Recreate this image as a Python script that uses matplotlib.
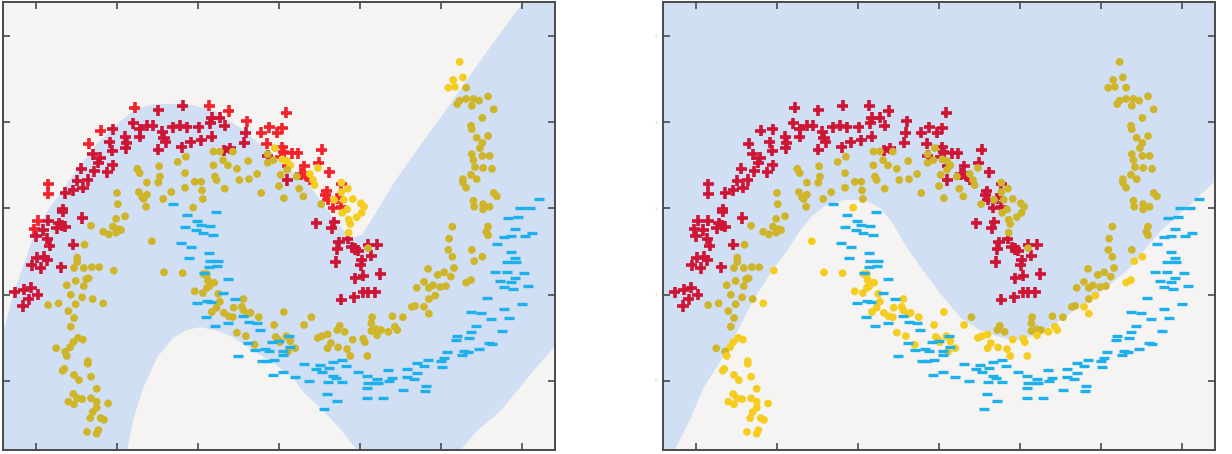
import numpy as np
import matplotlib
matplotlib.use("Agg")
import matplotlib.pyplot as plt

# ---------------- data (same samples shown in both panels) ----------------
red_x = [1.22, 1.51, 1.81, 2.14, 2.38, 3.09, 1.20, 2.60, 1.37, 1.44, 1.28, 1.69, 1.78, 1.86, 2.01,
         2.15, 2.17, 2.27, 2.33, 0.80, 0.95, 1.56, 2.78, 2.88, 2.98, 3.04, 2.59, 1.10, 1.28, 1.58,
         1.60, 1.91, 2.04, 2.17, 2.57, 1.80, 0.65, 0.91, 1.12, 1.11, 1.51, 2.40, 2.32, 2.85, 3.04,
         3.06, 3.16, 3.23, 0.70, 0.79, 0.77, 0.94, 0.95, 0.56, 0.72, 0.88, 0.15, 0.15, 0.36, 0.51,
         0.46, 0.58, 0.64, 0.33, 0.33, 0.57, 0.02, 0.15, 0.28, 0.26, -0.02, 0.32, 3.10, 2.86, 3.02,
         3.10, 0.00, 0.09, 0.14, 0.17, 0.46, 0.01, 0.10, 0.14, -0.05, 0.06, 0.31, -0.26, -0.15, -0.06,
         -0.09, 0.02, -0.16, 0.36, 3.53, 3.31, 3.49, 3.62, 3.27, 3.35, 3.38, 3.77, 3.59, 3.57, 3.60,
         3.72, 3.77, 3.67, 3.46, 3.68, 3.65, 3.85, 3.74, 3.72, 3.90, 3.94, 3.98, 4.10, 4.21, 3.70,
         4.02, 4.01, 4.14, 3.94, 4.04, 4.25, 3.77, 3.93, 4.04, 4.10, 4.19]
red_y = [3.17, 3.14, 3.19, 3.19, 3.13, 3.11, 2.99, 3.01, 2.96, 2.96, 2.92, 2.94, 2.96, 2.94, 2.94,
         2.99, 3.05, 3.05, 2.96, 2.90, 2.92, 2.89, 2.88, 2.94, 2.88, 2.93, 2.88, 2.83, 2.83, 2.82,
         2.77, 2.77, 2.79, 2.83, 2.76, 2.71, 2.75, 2.77, 2.76, 2.70, 2.68, 2.70, 2.67, 2.75, 2.71,
         2.66, 2.64, 2.64, 2.63, 2.59, 2.53, 2.67, 2.50, 2.46, 2.43, 2.42, 2.28, 2.17, 2.18, 2.32,
         2.21, 2.24, 2.33, 1.99, 1.96, 1.89, 1.86, 1.86, 1.83, 1.77, 1.76, 1.80, 2.33, 2.61, 2.60,
         2.49, 1.68, 1.75, 1.65, 1.57, 1.58, 1.43, 1.44, 1.40, 1.34, 1.31, 1.32, 1.03, 1.06, 1.08,
         0.95, 1.00, 0.87, 1.79, 2.68, 2.49, 2.53, 2.42, 2.40, 2.37, 2.34, 2.28, 2.20, 2.16, 2.10,
         2.12, 2.02, 2.01, 1.83, 1.84, 1.77, 1.65, 1.61, 1.53, 1.55, 1.53, 1.51, 1.58, 1.58, 1.38,
         1.40, 1.34, 1.45, 1.19, 1.22, 1.24, 0.94, 0.97, 1.03, 1.03, 1.03]

yel_x = [2.95, 2.86, 2.93, 3.04, 3.10, 3.14, 3.10, 2.86, 3.02, 2.19, 2.27, 2.43, 2.31, 2.37, 2.62,
         2.48, 2.19, 1.75, 1.85, 1.52, 1.25, 1.28, 1.53, 1.84, 2.21, 2.23, 2.51, 2.63, 2.73, 1.96,
         2.04, 1.37, 1.51, 1.84, 2.05, 2.33, 2.78, 3.00, 1.00, 1.27, 1.37, 1.31, 1.33, 1.67, 1.57,
         2.06, 1.01, 1.36, 3.06, 1.10, 0.99, 0.68, 0.95, 1.02, 1.94, 3.22, 3.25,
         0.83, 0.90, 0.99, 1.05, 1.43, 0.60, 0.51, 0.51, 0.47, 0.59, 0.69, 0.78, 0.96, 1.58, 1.81,
         0.65, 0.62, 0.49, 0.59, 0.38, 0.43, 0.57, 0.70, 0.83, 0.28, 0.15, 0.49, 0.40, 0.47, 0.43,
         0.52, 0.58, 0.46, 0.42, 0.25, 0.36, 0.38, 0.64, 0.64, 0.35, 0.33, 0.47, 0.53, 0.68, 0.75,
         0.46, 0.51, 0.57, 0.68, 0.40, 0.47, 0.75, 0.89, 0.75, 0.70, 0.67, 0.80, 0.84, 0.63, 0.77,
         0.75,
         1.96, 2.06, 2.11, 2.14, 2.11, 2.07, 2.12, 2.20, 2.25, 2.27, 2.23, 2.17, 2.32, 2.38, 2.43,
         2.44, 2.56, 2.54, 2.56, 2.62, 2.65, 2.75, 2.48, 2.59, 2.70, 2.94, 3.06, 2.96, 2.99, 3.01,
         3.09, 3.20, 3.11, 3.14,
         5.23, 5.15, 5.27, 5.09, 5.17, 5.31, 5.20, 5.23, 5.31, 5.40, 5.47, 5.38, 5.58, 5.65, 5.51,
         5.37, 5.38, 5.44, 5.51, 5.58, 5.48, 5.38, 5.51, 5.60, 5.40, 5.42, 5.52, 5.63, 5.37, 5.44,
         5.27, 5.27, 5.31, 5.65, 5.69, 5.40, 5.52, 5.41, 5.52, 5.60, 5.14, 5.58, 5.56, 5.58, 5.10,
         5.38, 5.09, 5.14, 5.41, 5.51, 5.16, 5.04, 4.96, 4.84, 5.12, 4.79, 4.90, 4.99, 5.06, 4.70,
         4.85, 5.31, 5.37,
         3.38, 3.42, 3.44, 3.30, 3.48, 3.52, 3.68, 3.77, 3.77, 3.80, 3.85, 3.91, 3.84, 3.78, 3.86,
         3.88, 3.96, 4.01, 4.05, 4.02, 3.86, 4.10,
         3.40, 3.31, 3.48, 3.53, 3.60, 3.72, 3.75, 3.81, 3.64, 3.60, 3.73, 3.84, 3.88, 3.91, 4.04,
         4.06, 4.09, 4.14, 4.15, 4.14, 4.20, 4.26, 4.21, 4.35, 4.43, 4.46, 4.40, 4.53, 4.64, 4.68,
         4.79, 4.85, 4.93, 4.85]
yel_y = [2.70, 2.63, 2.56, 2.57, 2.55, 2.50, 2.45, 2.53, 2.39, 2.66, 2.66, 2.66, 2.56, 2.50, 2.55,
         2.46, 2.50, 2.54, 2.60, 2.49, 2.46, 2.41, 2.37, 2.41, 2.37, 2.33, 2.33, 2.34, 2.40, 2.31,
         2.31, 2.30, 2.30, 2.24, 2.21, 2.23, 2.18, 2.26, 2.18, 2.19, 2.16, 2.13, 2.11, 2.19, 2.11,
         2.11, 2.05, 2.02, 2.12, 1.91, 1.88, 1.80, 1.79, 1.76, 2.01, 2.37, 2.23,
         1.73, 1.70, 1.72, 1.75, 1.62, 1.58, 1.43, 1.38, 1.31, 1.31, 1.32, 1.32, 1.28, 1.26, 1.25,
         1.19, 1.18, 1.16, 1.10, 1.11, 1.00, 0.97, 0.95, 0.90, 0.90, 0.88, 0.89, 0.81, 0.73, 0.63,
         0.50, 0.48, 0.45, 0.39, 0.38, 0.34, 0.29, 0.23, 0.20, 0.14, 0.12, 0.07, 0.01, 0.05, -0.09,
         -0.15, -0.20, -0.21, -0.20, -0.24, -0.27, -0.24, -0.26, -0.31, -0.36, -0.43, -0.43, -0.45, -0.59, -0.57,
         -0.61,
         1.04, 1.02, 1.08, 1.10, 1.24, 1.24, 1.17, 1.14, 1.01, 0.92, 0.85, 0.80, 0.79, 0.75, 0.74,
         0.85, 0.95, 0.86, 0.82, 0.78, 0.79, 0.74, 0.56, 0.52, 0.42, 0.65, 0.80, 0.51, 0.48, 0.45,
         0.52, 0.38, 0.34, 0.46,
         3.70, 3.49, 3.52, 3.40, 3.41, 3.40, 3.21, 3.25, 3.27, 3.27, 3.25, 3.19, 3.30, 3.15, 3.05,
         2.96, 2.92, 2.82, 2.76, 2.84, 2.70, 2.63, 2.61, 2.61, 2.56, 2.48, 2.47, 2.46, 2.39, 2.34,
         2.34, 2.30, 2.24, 2.18, 2.14, 2.09, 2.05, 2.02, 1.99, 2.02, 1.79, 1.79, 1.73, 1.69, 1.65,
         1.52, 1.52, 1.44, 1.39, 1.44, 1.31, 1.26, 1.23, 1.30, 1.21, 1.15, 1.11, 1.09, 1.10, 1.08,
         1.08, 1.14, 1.17,
         2.40, 2.33, 2.27, 2.14, 2.47, 2.05, 2.10, 2.30, 2.19, 2.10, 2.23, 2.11, 1.99, 1.95, 1.87,
         1.82, 1.90, 2.06, 2.02, 1.95, 1.72, 1.54,
         0.74, 0.65, 0.50, 0.52, 0.54, 0.59, 0.64, 0.57, 0.44, 0.38, 0.39, 0.37, 0.29, 0.48, 0.49,
         0.45, 0.29, 0.67, 0.74, 0.58, 0.60, 0.59, 0.53, 0.57, 0.63, 0.59, 0.75, 0.74, 0.86, 0.87,
         0.86, 0.95, 0.99, 0.78]

blu_x = [1.69, 1.86, 2.22, 1.99, 2.04, 2.15, 1.84, 1.98, 2.06, 2.19, 1.79, 1.91, 2.14, 1.89, 2.15,
         2.25, 2.23, 2.14, 2.37, 2.07, 1.99, 2.11, 2.16, 2.31, 2.46, 2.10, 2.21, 2.37, 2.56, 2.63,
         2.73, 2.77, 2.62, 2.70, 2.83, 2.88, 2.49, 2.79, 2.85, 2.94, 3.05, 3.05, 3.12, 3.14, 3.00,
         2.91, 2.93, 3.05, 3.20,
         6.21, 5.98, 6.10, 5.83, 5.95, 5.91, 6.12, 6.04, 5.78, 5.86, 5.69, 5.86, 5.91, 5.81, 5.93,
         5.67, 5.81, 6.02, 5.73, 5.86, 5.91, 5.78, 5.89, 6.07, 5.57, 5.78, 6.00, 5.37, 5.49, 5.62,
         5.84, 5.43, 5.75, 5.59, 5.63, 5.20, 5.19, 5.37, 5.35, 5.47, 5.28, 5.33, 5.26, 5.07, 5.04,
         5.00, 4.84, 4.70, 4.79, 5.01, 4.58, 4.70, 4.67, 4.58, 4.35, 4.40, 4.21, 4.19, 4.10, 4.09,
         4.22, 4.36, 4.53, 4.81, 4.80, 3.98, 4.09, 3.83, 3.78, 3.67, 3.62, 3.51, 3.53, 3.46, 3.31,
         3.67, 3.70, 3.78, 3.60, 3.37, 3.59, 3.72, 3.56, 4.09, 4.28]
blu_y = [2.05, 1.92, 1.96, 1.86, 1.81, 1.80, 1.79, 1.75, 1.72, 1.69, 1.60, 1.55, 1.48, 1.43, 1.39,
         1.39, 1.33, 1.32, 1.18, 1.25, 0.90, 0.93, 0.92, 1.02, 0.95, 0.74, 0.64, 0.67, 0.75, 0.68,
         0.67, 0.59, 0.44, 0.36, 0.37, 0.35, 0.29, 0.23, 0.23, 0.24, 0.35, 0.30, 0.52, 0.39, 0.46,
         0.45, 0.07, 0.10, 0.05,
         2.11, 2.01, 2.01, 1.89, 1.90, 1.76, 1.72, 1.68, 1.67, 1.68, 1.59, 1.50, 1.43, 1.38, 1.38,
         1.26, 1.26, 1.25, 1.16, 1.15, 1.19, 1.09, 1.07, 1.10, 0.96, 0.83, 0.89, 0.80, 0.79, 0.72,
         0.73, 0.64, 0.58, 0.44, 0.43, 0.52, 0.48, 0.57, 0.50, 0.37, 0.35, 0.34, 0.30, 0.34, 0.27,
         0.23, 0.24, 0.21, 0.17, 0.16, 0.14, 0.09, 0.02, 0.05, 0.13, 0.03, 0.02, -0.02, -0.02, -0.08,
         -0.02, 0.00, -0.10, -0.06, -0.12, 0.10, 0.06, 0.17, 0.24, 0.22, 0.15, 0.19, 0.10, 0.14, 0.20,
         0.06, 0.03, -0.01, -0.01, 0.00, -0.15, -0.23, -0.32, -0.20, -0.20]

# ---------------- decision boundaries ----------------
# left panel: upper white region lies above this curve
lt_x = [-0.41, -0.32, -0.20, -0.11, -0.01, 0.17, 0.30, 0.51, 0.75, 1.00, 1.20, 1.41, 1.65, 1.90,
        2.19, 2.52, 2.85, 3.14, 3.35, 3.54, 3.69, 3.88, 4.02, 4.19, 4.43, 4.74, 5.11, 5.48, 6.00]
lt_y = [0.57, 0.90, 1.25, 1.48, 1.77, 2.02, 2.19, 2.47, 2.76, 2.99, 3.14, 3.21, 3.22, 3.21,
        3.14, 2.94, 2.68, 2.45, 2.30, 2.06, 1.86, 1.66, 1.70, 1.96, 2.33, 2.74, 3.22, 3.72, 4.39]
# left panel: lower white bump lies below this curve
lb_x = [1.12, 1.20, 1.32, 1.49, 1.69, 1.86, 2.02, 2.23, 2.43, 2.68, 2.93, 3.17, 3.30, 3.51, 3.75, 3.96]
lb_y = [-0.80, -0.42, -0.07, 0.28, 0.51, 0.60, 0.63, 0.59, 0.51, 0.36, 0.21, 0.04, -0.13, -0.31, -0.55, -0.80]
# left panel: bottom-right white corner lies below this curve
lc_x = [5.23, 5.44, 5.73, 5.94, 6.14, 6.41]
lc_y = [-0.80, -0.57, -0.34, -0.10, 0.13, 0.42]
# right panel: white region lies below this curve
rb_x = [-0.27, -0.07, 0.09, 0.30, 0.51, 0.70, 0.91, 1.12, 1.28, 1.43, 1.59, 1.84, 2.09, 2.27,
        2.42, 2.58, 2.77, 3.01, 3.26, 3.51, 3.79, 4.00, 4.25, 4.49, 4.90, 5.32, 5.73, 6.06, 6.41]
rb_y = [-0.80, -0.42, -0.07, 0.24, 0.59, 0.94, 1.25, 1.52, 1.75, 1.92, 2.04, 2.11, 2.10, 2.01,
        1.84, 1.58, 1.32, 1.02, 0.74, 0.59, 0.50, 0.48, 0.56, 0.71, 0.97, 1.29, 1.75, 2.02, 2.33]

x_ticks = [0, 1, 2, 3, 4, 5, 6]
y_ticks = [0, 1, 2, 3, 4]
y_tick_labels = ["0", "1", "2", "3", "4"]

XMIN, XMAX = -0.407, 6.407
YMIN, YMAX = -0.80, 4.394

BG_WHITE = "#f5f4f2"
BG_BLUE = "#d0dff3"
RED_ON_WHITE = "#f2232b"
RED_ON_BLUE = "#cf1535"
YEL_ON_WHITE = "#f5cd20"
YEL_ON_BLUE = "#cfb52a"
BLUE_MARK = "#1eb0ec"
SPINE = "#4a4a4a"

rx, ry = np.array(red_x), np.array(red_y)
yx, yy = np.array(yel_x), np.array(yel_y)
bx, by = np.array(blu_x), np.array(blu_y)


def white_left(x, y):
    top = y > np.interp(x, lt_x, lt_y)
    bump = (x >= lb_x[0]) & (x <= lb_x[-1]) & (y < np.interp(x, lb_x, lb_y))
    corner = (x >= lc_x[0]) & (y < np.interp(x, lc_x, lc_y))
    return top | bump | corner


def white_right(x, y):
    return (x >= rb_x[0]) & (y < np.interp(x, rb_x, rb_y))


fig = plt.figure(figsize=(12.32, 4.54), dpi=100)
fig.patch.set_facecolor("white")
ax1 = fig.add_axes([3 / 1232, 4 / 454, 552 / 1232, 448 / 454])
ax2 = fig.add_axes([663 / 1232, 4 / 454, 552 / 1232, 448 / 454])

for ax in (ax1, ax2):
    ax.set_facecolor(BG_BLUE)
    ax.set_xlim(XMIN, XMAX)
    ax.set_ylim(YMIN, YMAX)

# backgrounds (decision regions)
ax1.fill_between(lt_x, lt_y, YMAX, color=BG_WHITE, lw=0, zorder=0)
ax1.fill_between(lb_x, YMIN, lb_y, color=BG_WHITE, lw=0, zorder=0)
ax1.fill_between(lc_x, YMIN, lc_y, color=BG_WHITE, lw=0, zorder=0)
ax2.fill_between(rb_x, YMIN, rb_y, color=BG_WHITE, lw=0, zorder=0)

for ax, is_white in ((ax1, white_left), (ax2, white_right)):
    rw = is_white(rx, ry)
    rc = np.where(rw, RED_ON_WHITE, RED_ON_BLUE)
    ax.scatter(rx, ry, marker="+", s=8.0 ** 2, linewidths=2.6, c=list(rc), zorder=3)
    yw = is_white(yx, yy)
    yc = np.where(yw, YEL_ON_WHITE, YEL_ON_BLUE)
    ax.scatter(yx, yy, marker="o", s=5.6 ** 2, linewidths=0, c=list(yc), zorder=4)
    ax.scatter(bx, by, marker="_", s=7.4 ** 2, linewidths=2.4, c=BLUE_MARK, zorder=5)

    ax.set_xticks(x_ticks)
    ax.set_yticks(y_ticks)
    ax.tick_params(direction="in", length=5, width=1.2, color=SPINE,
                   top=True, right=True, bottom=True, left=True,
                   labelbottom=False, labelleft=False)
    for sp in ax.spines.values():
        sp.set_color(SPINE)
        sp.set_linewidth(1.4)

# faint tiny y labels on the right panel
ax2.set_yticklabels(y_tick_labels)
ax2.tick_params(axis="y", labelleft=True, labelsize=3, labelcolor="#c4c4c4", pad=4)

fig.savefig("out.png", dpi=100)
